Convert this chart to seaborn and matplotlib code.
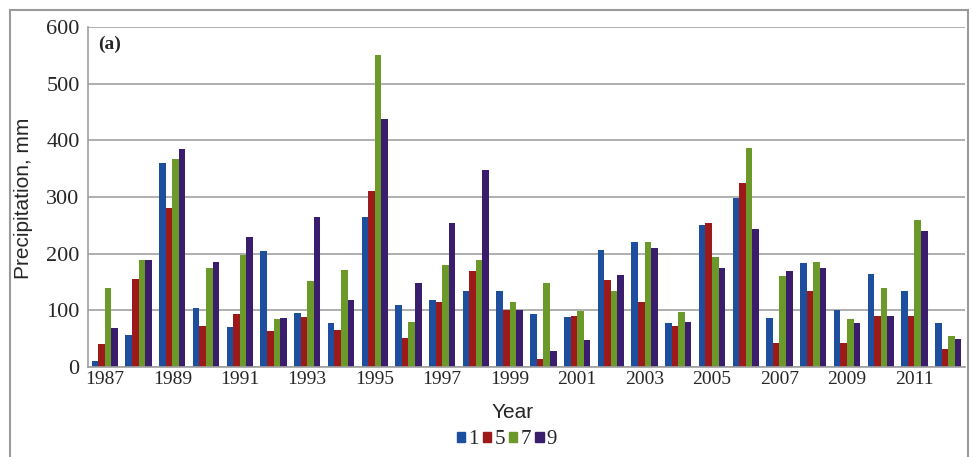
import matplotlib
matplotlib.use("Agg")
import matplotlib.pyplot as plt
import matplotlib.patches as mpatches
import pandas as pd
import seaborn as sns

years = list(range(1987, 2013))
series_names = ["1", "5", "7", "9"]
s1 = [10, 57, 360, 105, 70, 205, 95, 78, 265, 110, 118, 135, 135, 93, 88, 207, 220, 77, 250, 298, 87, 183, 100, 165, 135, 77]
s5 = [40, 155, 280, 72, 93, 63, 88, 65, 310, 52, 115, 170, 100, 15, 90, 153, 115, 73, 255, 325, 43, 135, 43, 90, 90, 32]
s7 = [140, 188, 367, 175, 197, 85, 152, 172, 550, 80, 180, 188, 115, 148, 98, 135, 220, 97, 195, 387, 160, 185, 85, 140, 260, 55]
s9 = [68, 188, 385, 185, 230, 87, 265, 118, 438, 148, 255, 348, 100, 28, 47, 162, 210, 80, 175, 243, 170, 175, 78, 90, 240, 50]
colors = ["#1d4f9e", "#9c1a1a", "#6c9a2a", "#3a1d6c"]

rows = []
for name, vals in zip(series_names, [s1, s5, s7, s9]):
    for y, v in zip(years, vals):
        rows.append({"Year": str(y), "Series": name, "Precipitation": v})
df = pd.DataFrame(rows)

sns.set_style("white")
plt.rcParams["font.family"] = ["Liberation Serif", "DejaVu Serif"]

fig = plt.figure(figsize=(9.73, 4.57), dpi=100)
ax = fig.add_axes([88 / 973, 90 / 457, 877 / 973, 340 / 457])

sns.barplot(data=df, x="Year", y="Precipitation", hue="Series", palette=colors,
            width=0.78, gap=0, saturation=1, linewidth=0, ax=ax, legend=False)

ax.set_ylim(0, 600)
ax.set_xlim(-0.5, len(years) - 0.5)
ax.set_yticks(range(0, 601, 100))
ax.yaxis.grid(True, color="#a8a8a8", linewidth=1.3)
ax.set_axisbelow(True)
ax.set_xticks(range(0, len(years), 2))
ax.set_xticklabels([str(y) for y in years[::2]], fontsize=14)
ax.set_xticks([i - 0.5 for i in range(len(years) + 1)], minor=True)
ax.tick_params(axis="x", which="major", length=0, pad=3)
ax.tick_params(axis="x", which="minor", length=3, color="#a0a0a0")
ax.tick_params(axis="y", labelsize=16, length=0, pad=6)
for side in ["top", "right"]:
    ax.spines[side].set_visible(False)
for side in ["left", "bottom"]:
    ax.spines[side].set_color("#a0a0a0")
    ax.spines[side].set_linewidth(1.2)

ax.set_xlabel("")
ax.set_ylabel("")
fig.text(24 / 973, 1 - 198 / 457, "Precipitation, mm", rotation=90, ha="center", va="center",
         fontsize=15, family=["Liberation Sans", "DejaVu Sans"])
fig.text(513 / 973, 1 - 412 / 457, "Year", ha="center", va="center",
         fontsize=15, family=["Liberation Sans", "DejaVu Sans"])
ax.text(0.012, 0.95, "(a)", transform=ax.transAxes, fontsize=14, fontweight="bold", va="center")

handles = [mpatches.Patch(color=c, label=n) for c, n in zip(colors, series_names)]
fig.legend(handles=handles, loc="center", bbox_to_anchor=(507 / 973, 1 - 440 / 457), ncol=4,
           frameon=False, fontsize=15, handlelength=0.4, handleheight=0.4,
           handletextpad=0.15, columnspacing=0.2)

fig.add_artist(mpatches.Rectangle((10 / 973, -0.05), 958 / 973, 1.05 - 10 / 457, transform=fig.transFigure,
                                  fill=False, edgecolor="#9a9a9a", linewidth=1.5, clip_on=False))

fig.savefig("out.png", dpi=100)
